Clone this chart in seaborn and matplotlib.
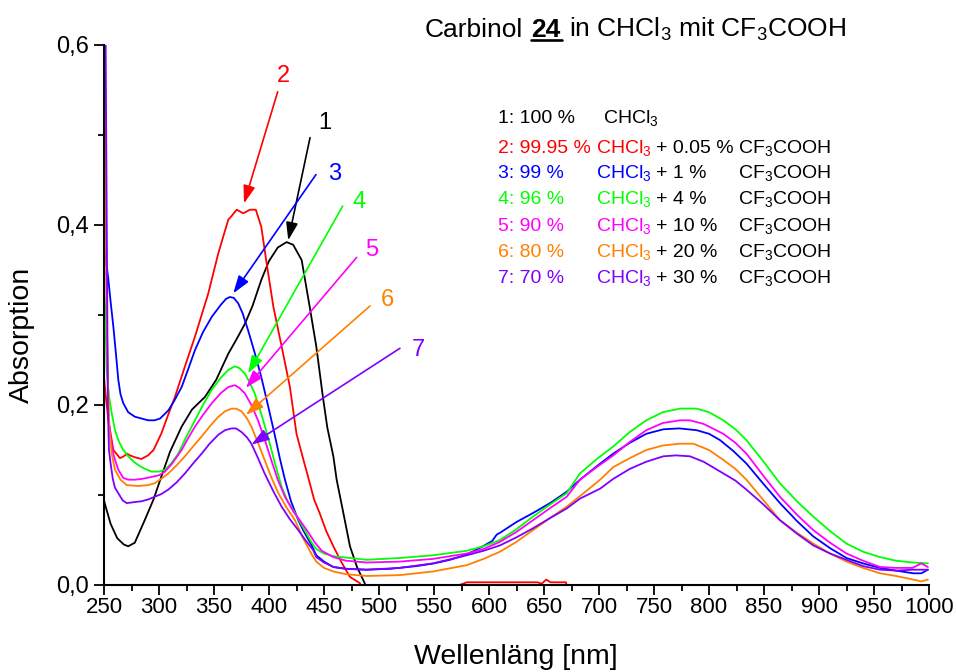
import matplotlib
matplotlib.use("Agg")
import matplotlib.pyplot as plt
import pandas as pd
import seaborn as sns
from matplotlib.lines import Line2D
from matplotlib.ticker import MultipleLocator

# ---- spectra: wavelength [nm] and absorbance per sample ----
wl_1 = [250, 252, 256, 262, 268, 272, 278, 287, 295, 302, 310, 320.6, 330, 341.8, 352,
        363, 370, 378, 385, 393, 400, 408, 416, 422, 429.7, 437, 443, 449, 453, 458.5,
        461.5, 467.6, 473.6, 480, 487, 490]
abs_1 = [0.094, 0.085, 0.068, 0.052, 0.045, 0.043, 0.047, 0.072, 0.095, 0.12, 0.148, 0.176,
         0.195, 0.209, 0.228, 0.257, 0.272, 0.29, 0.31, 0.339, 0.36, 0.375, 0.381, 0.378,
         0.361, 0.309, 0.265, 0.209, 0.175, 0.143, 0.117, 0.08, 0.043, 0.02, 0.002, -0.01]

wl_2 = [250, 252, 254, 258.5, 264.5, 268, 271, 273.6, 278, 284, 290, 295, 302, 308, 314.5,
        323.6, 332.7, 344.8, 354, 363, 366, 370.6, 376.6, 382.7, 388, 393, 397.9, 404,
        411.5, 419, 425, 430, 436, 441, 446, 452, 458.5, 466, 473.6, 482.7, 486, 571, 573,
        580, 644, 648, 652, 656, 670, 672, 1000]
abs_2 = [0.231, 0.205, 0.183, 0.15, 0.141, 0.143, 0.146, 0.144, 0.142, 0.14, 0.144, 0.15,
         0.168, 0.188, 0.209, 0.243, 0.276, 0.324, 0.369, 0.406, 0.41, 0.417, 0.413, 0.417,
         0.417, 0.398, 0.357, 0.309, 0.265, 0.22, 0.168, 0.145, 0.118, 0.095, 0.08, 0.06,
         0.043, 0.025, 0.009, 0.002, -0.01, -0.01, 0.0, 0.003, 0.003, 0.0015, 0.006, 0.003,
         0.003, -0.01, -0.01]

wl_3 = [250, 252, 254, 256, 258.5, 261, 263, 265, 267.5, 272, 278, 284, 290, 296, 301,
        308.5, 314, 320.6, 326, 332.7, 340, 348, 356, 361, 364.5, 368, 372, 376, 381, 387,
        393, 399, 405, 410, 414.5, 420, 426.6, 431, 438.8, 443, 450, 458.5, 470, 488.8,
        510, 534, 550, 564.5, 580, 594.5, 603, 607, 610, 625, 640, 655.5, 670, 682.7, 698,
        713, 728, 743, 758.5, 773, 788.8, 800, 810, 822, 834, 849, 864.5, 880, 894.8, 910,
        925, 940, 955.5, 970, 985.7, 993, 999]
abs_3 = [0.372, 0.36, 0.339, 0.315, 0.287, 0.255, 0.228, 0.212, 0.202, 0.192, 0.187, 0.185,
         0.183, 0.183, 0.185, 0.194, 0.205, 0.22, 0.238, 0.261, 0.281, 0.298, 0.311, 0.318,
         0.32, 0.319, 0.313, 0.302, 0.283, 0.258, 0.231, 0.2, 0.168, 0.14, 0.117, 0.093,
         0.072, 0.061, 0.044, 0.033, 0.026, 0.02, 0.018, 0.017, 0.018, 0.021, 0.024, 0.028,
         0.034, 0.043, 0.049, 0.056, 0.058, 0.07, 0.08, 0.091, 0.103, 0.117, 0.132, 0.146,
         0.158, 0.168, 0.173, 0.174, 0.172, 0.168, 0.161, 0.149, 0.135, 0.113, 0.091, 0.071,
         0.054, 0.041, 0.03, 0.024, 0.019, 0.016, 0.013, 0.013, 0.017]

wl_4 = [250, 251, 252.4, 254.5, 257, 260, 263, 267, 272, 278, 284, 293, 300, 305.5, 311,
        317.5, 325, 332.7, 340, 348, 356, 363, 369, 373, 378, 382, 387, 393, 399, 405,
        411.5, 417, 423.6, 431, 438.8, 443, 450, 458.5, 488.8, 519, 549, 579.7, 595, 610,
        625, 640, 655, 670.6, 682.7, 698, 713, 728, 743, 758, 773.6, 788.8, 800, 813, 824,
        834, 849, 864.5, 880, 894.8, 910, 925, 940, 955.5, 970, 985, 999]
abs_4 = [0.325, 0.31, 0.239, 0.21, 0.191, 0.172, 0.161, 0.151, 0.143, 0.136, 0.131, 0.126,
         0.126, 0.128, 0.135, 0.146, 0.165, 0.183, 0.2, 0.217, 0.23, 0.239, 0.243, 0.241,
         0.235, 0.226, 0.213, 0.19, 0.165, 0.137, 0.109, 0.093, 0.08, 0.064, 0.047, 0.04,
         0.035, 0.032, 0.028, 0.03, 0.033, 0.038, 0.043, 0.05, 0.062, 0.076, 0.089, 0.102,
         0.124, 0.14, 0.154, 0.17, 0.183, 0.192, 0.196, 0.196, 0.192, 0.183, 0.173, 0.161,
         0.138, 0.113, 0.093, 0.076, 0.06, 0.046, 0.037, 0.031, 0.027, 0.025, 0.024]

wl_5 = [250, 251, 252.5, 254, 255.5, 258, 260, 263, 267.5, 272, 278, 285, 293, 300, 305.5,
        312, 320.6, 326, 332.7, 340, 348, 356, 363, 369, 373, 378, 384, 390, 396, 402, 408,
        414.5, 422, 429.7, 436, 441.8, 448, 458.5, 470, 488.8, 519, 549, 579.7, 595, 610,
        625, 640, 655, 670.6, 682.7, 698, 713, 728, 743, 758, 773.6, 782.6, 795, 813, 824,
        834, 849, 864.5, 880, 894.8, 910, 925, 940, 955.5, 970, 985, 993, 999]
abs_5 = [0.70, 0.5, 0.3, 0.19, 0.169, 0.148, 0.139, 0.128, 0.119, 0.117, 0.117, 0.118, 0.12,
         0.122, 0.126, 0.135, 0.15, 0.162, 0.176, 0.189, 0.202, 0.213, 0.22, 0.222, 0.219,
         0.213, 0.2, 0.183, 0.162, 0.139, 0.117, 0.098, 0.082, 0.069, 0.058, 0.047, 0.038,
         0.031, 0.027, 0.025, 0.026, 0.029, 0.035, 0.04, 0.048, 0.059, 0.072, 0.085, 0.098,
         0.117, 0.131, 0.144, 0.159, 0.172, 0.18, 0.183, 0.183, 0.179, 0.168, 0.158, 0.146,
         0.122, 0.098, 0.078, 0.061, 0.047, 0.035, 0.027, 0.02, 0.019, 0.019, 0.024, 0.02]

wl_6 = [250.5, 251.5, 253, 255, 257, 260, 265, 270.6, 281, 290, 296, 302, 308.5, 316, 323.6,
        331, 338.8, 346, 354, 360, 366, 370, 375, 380, 384, 390, 396, 402, 408.5, 416, 423.6,
        431, 438.8, 443, 450, 458.5, 470, 488.8, 519, 549, 579.7, 595, 610, 625, 640, 655,
        670.6, 685, 701, 713, 728, 743, 758, 773.6, 785.7, 800, 813, 824, 834, 849, 864.5,
        880, 894.8, 910, 925, 940, 955.5, 970, 985.7, 993, 999]
abs_6 = [0.70, 0.45, 0.25, 0.17, 0.146, 0.128, 0.117, 0.111, 0.11, 0.111, 0.113, 0.118, 0.124,
         0.133, 0.143, 0.154, 0.165, 0.176, 0.187, 0.193, 0.196, 0.196, 0.193, 0.185, 0.176,
         0.158, 0.139, 0.12, 0.102, 0.086, 0.072, 0.052, 0.034, 0.026, 0.019, 0.015, 0.012,
         0.01, 0.011, 0.015, 0.022, 0.029, 0.037, 0.048, 0.061, 0.074, 0.087, 0.101, 0.117,
         0.131, 0.141, 0.15, 0.155, 0.157, 0.157, 0.15, 0.139, 0.129, 0.117, 0.095, 0.072,
         0.058, 0.046, 0.035, 0.026, 0.019, 0.013, 0.01, 0.006, 0.004, 0.006]

wl_7 = [251, 252.5, 253.5, 254.5, 256, 258, 260, 263, 267, 270.6, 277, 284, 290, 296, 302,
        308.5, 316, 323.6, 331, 338.8, 346, 354, 360, 366, 370, 375, 380, 384, 390, 396, 404,
        411.5, 419, 426.6, 433, 440, 443, 450, 458.5, 470, 488.8, 519, 549, 579.7, 595, 610,
        625, 640, 655, 670.6, 682.7, 701, 713, 728, 743, 758.5, 770, 782.7, 795, 813, 824,
        834, 849, 864.5, 880, 894.8, 910, 925, 940, 955.5, 970, 985, 999]
abs_7 = [0.70, 0.40, 0.2, 0.15, 0.135, 0.118, 0.108, 0.102, 0.094, 0.091, 0.092, 0.093, 0.095,
         0.098, 0.101, 0.106, 0.114, 0.124, 0.135, 0.146, 0.157, 0.167, 0.172, 0.174, 0.174,
         0.17, 0.164, 0.157, 0.141, 0.124, 0.104, 0.087, 0.073, 0.061, 0.05, 0.039, 0.031,
         0.025, 0.02, 0.018, 0.017, 0.019, 0.024, 0.033, 0.038, 0.044, 0.053, 0.063, 0.074,
         0.085, 0.096, 0.107, 0.118, 0.129, 0.137, 0.143, 0.144, 0.143, 0.137, 0.124, 0.116,
         0.106, 0.09, 0.072, 0.057, 0.044, 0.035, 0.028, 0.021, 0.017, 0.016, 0.017, 0.017]

curve_ids = ["1", "2", "3", "4", "5", "6", "7"]
curve_colors = ["#000000", "#FF0000", "#0000FF", "#00FF00", "#FF00FF", "#FF8000", "#8000FF"]

# legend text: chloroform share and acid share per sample
chcl3_share = ["1: 100 %", "2: 99.95 %", "3: 99 %", "4: 96 %", "5: 90 %", "6: 80 %", "7: 70 %"]
acid_share = ["", "+ 0.05 %", "+ 1 %", "+ 4 %", "+ 10 %", "+ 20 %", "+ 30 %"]

x_ticks = list(range(250, 1001, 50))
y_ticks = [0.0, 0.2, 0.4, 0.6]
y_tick_labels = ["0,0", "0,2", "0,4", "0,6"]

# ---- style ----
sns.set_theme(style="ticks")
plt.rcParams["font.family"] = ["Liberation Sans", "DejaVu Sans"]
plt.rcParams["mathtext.fontset"] = "custom"
plt.rcParams["mathtext.rm"] = "Liberation Sans"
plt.rcParams["mathtext.it"] = "Liberation Sans:italic"
plt.rcParams["mathtext.bf"] = "Liberation Sans:bold"
plt.rcParams["mathtext.default"] = "regular"

W, H = 956, 672
fig = plt.figure(figsize=(W / 100, H / 100), dpi=100)
fig.patch.set_facecolor("white")
ax = fig.add_axes([104 / W, 87 / H, 825 / W, 540 / H])
ax.set_facecolor("white")

wls = [wl_1, wl_2, wl_3, wl_4, wl_5, wl_6, wl_7]
absb = [abs_1, abs_2, abs_3, abs_4, abs_5, abs_6, abs_7]
df = pd.concat(
    [pd.DataFrame({"wl": w, "A": a, "curve": c}) for w, a, c in zip(wls, absb, curve_ids)],
    ignore_index=True,
)
palette = dict(zip(curve_ids, curve_colors))
sns.lineplot(data=df, x="wl", y="A", hue="curve", hue_order=curve_ids, palette=palette,
             estimator=None, lw=1.3, legend=False, ax=ax)

ax.set_xlim(250, 1000)
ax.set_ylim(0, 0.6)
ax.set_xlabel("")
ax.set_ylabel("")
for s in ("top", "right"):
    ax.spines[s].set_visible(False)
for s in ("left", "bottom"):
    ax.spines[s].set_color("black")
    ax.spines[s].set_linewidth(1.5)

ax.set_xticks(x_ticks)
ax.set_xticklabels([str(t) for t in x_ticks])
ax.xaxis.set_minor_locator(MultipleLocator(25))
ax.set_yticks(y_ticks)
ax.set_yticklabels(y_tick_labels)
ax.yaxis.set_minor_locator(MultipleLocator(0.1))
ax.tick_params(which="major", direction="out", length=7, width=1.3, color="black",
               labelcolor="black", labelsize=16)
ax.tick_params(which="minor", direction="out", length=4.5, width=1.3, color="black")
ax.tick_params(axis="x", which="major", pad=1.5)
ax.tick_params(axis="y", which="major", pad=4, labelsize=17)

# axis titles
fig.text(516 / W, 1 - 657 / H, "Wellenläng [nm]", ha="center", va="center", fontsize=20.5,
         color="black")
fig.text(22 / W, 1 - 335 / H, "Absorption", ha="center", va="center", rotation=90,
         fontsize=20.5, color="black")

# title in pieces (bold, underlined compound number)
title_base = 1 - 37 / H
fig.text(425 / W, title_base, "Carbinol", fontsize=19, va="baseline", color="black")
fig.text(531 / W, title_base, "24", fontsize=19, fontweight="bold", va="baseline",
         color="black")
fig.text(569 / W, title_base, "in CHCl$_3$ mit CF$_3$COOH", fontsize=19, va="baseline",
         color="black")
fig.add_artist(Line2D([531 / W, 562 / W], [1 - 39.5 / H, 1 - 39.5 / H], color="black",
                      lw=1.9, transform=fig.transFigure))

# composition legend
row_base = [0.513, 0.4797, 0.452, 0.4233, 0.3937, 0.3647, 0.3359]
for i, cid in enumerate(curve_ids):
    col = curve_colors[i]
    y = row_base[i]
    ax.text(608.2, y, chcl3_share[i], color=col, fontsize=14, va="baseline")
    if i == 0:
        ax.text(703.6, y, "CHCl$_3$", color=col, fontsize=14, va="baseline")
        continue
    ax.text(697.7, y, "CHCl$_3$", color=col, fontsize=14, va="baseline")
    ax.text(751.5, y, acid_share[i], color="black", fontsize=14, va="baseline")
    ax.text(826.6, y, "CF$_3$COOH", color="black", fontsize=14, va="baseline")

# curve number labels with arrows: (label pos), (arrow tail), (arrow head)
label_pos = [(451, 0.513), (413, 0.565), (460, 0.457), (482, 0.426), (493, 0.372),
             (507.6, 0.317), (535.8, 0.261)]
arrow_tail = [(437.3, 0.497), (407.9, 0.548), (442.7, 0.456), (467, 0.421), (479.7, 0.364),
              (491.8, 0.310), (519, 0.263)]
arrow_head = [(417.5, 0.383), (377.3, 0.424), (367.5, 0.324), (381, 0.235), (379, 0.219),
              (379, 0.189), (384, 0.156)]
for i, cid in enumerate(curve_ids):
    col = curve_colors[i]
    ax.annotate("", xy=arrow_head[i], xytext=arrow_tail[i],
                arrowprops=dict(arrowstyle="-|>,head_length=0.6,head_width=0.2",
                                mutation_scale=18, color=col, lw=1.2,
                                shrinkA=0, shrinkB=0))
    ax.text(label_pos[i][0], label_pos[i][1], cid, color=col, fontsize=17,
            ha="center", va="center")

fig.savefig("out.png", dpi=100, facecolor="white")
